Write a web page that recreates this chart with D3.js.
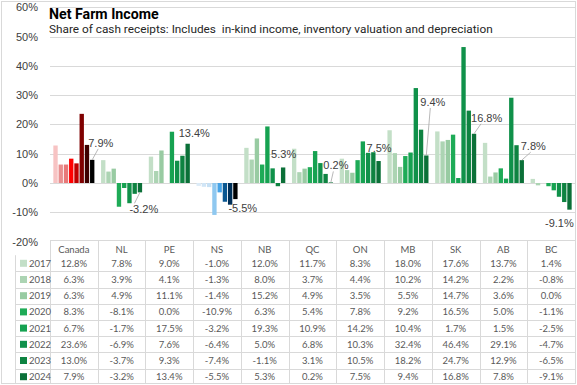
<!DOCTYPE html>
<html><head><meta charset="utf-8">
<script src="https://cdn.jsdelivr.net/npm/d3@7"></script>
<style>html,body{margin:0;padding:0;background:#fff;}svg{display:block;}</style>
</head><body><svg id="c" width="577" height="385"></svg>
<script>
const categories = ["Canada","NL","PE","NS","NB","QC","ON","MB","SK","AB","BC"];
const years = ["2017","2018","2019","2020","2021","2022","2023","2024"];
const v2017 = [12.8, 7.8, 9.0, -1.0, 12.0, 11.7, 8.3, 18.0, 17.6, 13.7, 1.4];
const v2018 = [6.3, 3.9, 4.1, -1.3, 8.0, 3.7, 4.4, 10.2, 14.2, 2.2, -0.8];
const v2019 = [6.3, 4.9, 11.1, -1.4, 15.2, 4.9, 3.5, 5.5, 14.7, 3.6, 0.0];
const v2020 = [8.3, -8.1, 0.0, -10.9, 6.3, 5.4, 7.8, 9.2, 16.5, 5.0, -1.1];
const v2021 = [6.7, -1.7, 17.5, -3.2, 19.3, 10.9, 14.2, 10.4, 1.7, 1.5, -2.5];
const v2022 = [23.6, -6.9, 7.6, -6.4, 5.0, 6.8, 10.3, 32.4, 46.4, 29.1, -4.7];
const v2023 = [13.0, -3.7, 9.3, -7.4, -1.1, 3.1, 10.5, 18.2, 24.7, 12.9, -6.5];
const v2024 = [7.9, -3.2, 13.4, -5.5, 5.3, 0.2, 7.5, 9.4, 16.8, 7.8, -9.1];
const yTicks = [-20, -10, 0, 10, 20, 30, 40, 50, 60];
const title = "Net Farm Income";
const subtitle = "Share of cash receipts: Includes\u00a0 in-kind income, inventory valuation and depreciation";

const series = [v2017, v2018, v2019, v2020, v2021, v2022, v2023, v2024];
const loc = d3.formatLocale({decimal: ".", thousands: ",", grouping: [3], currency: ["$", ""], minus: "-"});
const fmt = v => loc.format(".1f")(v) + "%";

// colours (style)
const greens = ["#c3dfc7","#acd4b3","#98cba2","#1eab57","#16a251","#10914a","#0e8341","#0b7038"];
const reds = ["#f7c3c3","#e98f8f","#e87878","#ff0000","#c00000","#7f0000","#3d0000","#000000"];
const blues = ["#dcebf7","#d0e5f6","#c6e0f4","#8fc8f0","#46a3e6","#0a5791","#003059","#000000"];
function colorFor(cat, yi){
  if (cat === "Canada") return reds[yi];
  if (cat === "NS") return blues[yi];
  return greens[yi];
}
// label offsets for 2024 values (layout)
const labelOffsets = {
  Canada:[-4,-13,true], NL:[-10.5,21,true], PE:[-9,-7,false], NS:[-7,13,false],
  NB:[-12,-9.5,false], QC:[-7.5,-13,true], ON:[-12,-9,false], MB:[-6,-49.5,true],
  SK:[-3,-12,true], AB:[-1,-10,true], BC:[-24.5,17.5,false]
};

const svg = d3.select("#c");
const L = 50, R = 575;
const y = d3.scaleLinear().domain([-20, 60]).range([241.6, 7.2]);
const x = d3.scaleBand().domain(categories).range([L, R]).paddingInner(0.14).paddingOuter(0.07);
const xi = d3.scaleBand().domain(years).range([0, x.bandwidth()]).paddingInner(0.17);
const col = d3.scaleBand().domain(categories).range([L, R]);

// outer border
svg.append("rect").attr("x",1.5).attr("y",1.5).attr("width",574).attr("height",382)
  .attr("fill","none").attr("stroke","#d9d9d9");

// gridlines
svg.append("g").selectAll("line").data(yTicks.filter(t => t > -20)).join("line")
  .attr("x1", L).attr("x2", R).attr("y1", d => Math.round(y(d))+0.5).attr("y2", d => Math.round(y(d))+0.5)
  .attr("stroke", "#d9d9d9").attr("stroke-width", 1);

// y axis labels
const yAxis = d3.axisLeft(y).tickValues(yTicks).tickFormat(d => d + "%").tickSize(0).tickPadding(0);
const ga = svg.append("g").attr("transform", "translate(38,0)").call(yAxis);
ga.select(".domain").remove();
ga.selectAll("text").attr("font-family","Liberation Sans, Arial, sans-serif").attr("font-size","11px").attr("fill","#404040");

// title
svg.append("text").attr("x", 49).attr("y", 18.5).text(title)
  .attr("font-family","Roboto, sans-serif").attr("font-weight","bold").attr("font-size","14.2px").attr("fill","#000");
svg.append("text").attr("x", 49).attr("y", 32.5).text(subtitle)
  .attr("font-family","Roboto, sans-serif").attr("font-size","11.8px").attr("fill","#262626");

// bars
const flat = [];
categories.forEach((c, ci) => series.forEach((s, yi) => flat.push({c, yi, v: s[ci]})));
svg.append("g").selectAll("rect").data(flat).join("rect")
  .attr("x", d => x(d.c) + xi(years[d.yi]))
  .attr("width", xi.bandwidth())
  .attr("y", d => y(Math.max(0, d.v)))
  .attr("height", d => Math.abs(y(d.v) - y(0)))
  .attr("fill", d => colorFor(d.c, d.yi));

// data labels for 2024
const lab = svg.append("g");
categories.forEach((c, ci) => {
  const v = v2024[ci];
  const bx = x(c) + xi("2024") + xi.bandwidth()/2;
  const by = y(v);
  const [dx, dy, leader] = labelOffsets[c];
  const tx = bx + dx, ty = by + dy;
  if (leader) {
    const ly = dy < 0 ? ty + 2 : ty - 10;
    lab.append("line").attr("x1", bx).attr("y1", by).attr("x2", tx + (dy < 0 ? 10 : 5)).attr("y2", ly)
      .attr("stroke", "#a6a6a6").attr("stroke-width", 0.8);
  }
  lab.append("text").attr("x", tx).attr("y", ty).text(fmt(v))
    .attr("font-family","Liberation Sans, Arial, sans-serif").attr("font-size","11px").attr("fill","#404040");
});

// data table
const tTop = 240, hdrBot = 255.2, rowH = 16.2, tBot = 384;
const tg = svg.append("g");
const lineC = "#d9d9d9";
tg.append("line").attr("x1", L).attr("x2", R).attr("y1", tTop+0.5).attr("y2", tTop+0.5).attr("stroke", lineC);
years.forEach((yr, i) => {
  if (i > 0) {
    const yy = Math.round(hdrBot + rowH*i) + 0.5;
    tg.append("line").attr("x1", 15).attr("x2", R).attr("y1", yy).attr("y2", yy).attr("stroke", lineC);
  }
});
tg.append("line").attr("x1", 15.5).attr("x2", 15.5).attr("y1", hdrBot).attr("y2", tBot).attr("stroke", lineC);
categories.concat(["_end"]).forEach((c, i) => {
  const xx = Math.round(L + col.step()*i) + 0.5;
  tg.append("line").attr("x1", xx).attr("x2", xx).attr("y1", tTop).attr("y2", tBot).attr("stroke", lineC);
});
const tf = "Lato, Liberation Sans, sans-serif";
const tc = "#595959";
tg.selectAll("text.h").data(categories).join("text").attr("class","h")
  .attr("x", d => col(d) + col.bandwidth()/2).attr("y", 253)
  .attr("text-anchor","middle").text(d => d)
  .attr("font-family", tf).attr("font-size","9.5px").attr("fill", tc);
years.forEach((yr, yi) => {
  const cy = hdrBot + rowH*yi + rowH/2;
  tg.append("rect").attr("x", 20).attr("y", cy - 3.5).attr("width", 7).attr("height", 7).attr("fill", greens[yi]);
  tg.append("text").attr("x", 29).attr("y", cy + 3.5).text(yr)
    .attr("font-family", tf).attr("font-size","9.5px").attr("fill", tc);
  categories.forEach((c, ci) => {
    tg.append("text").attr("x", col(c) + col.bandwidth()/2).attr("y", cy + 3.5)
      .attr("text-anchor","middle").text(fmt(series[yi][ci]))
      .attr("font-family", tf).attr("font-size","9.5px").attr("fill", tc);
  });
});
</script></body></html>
